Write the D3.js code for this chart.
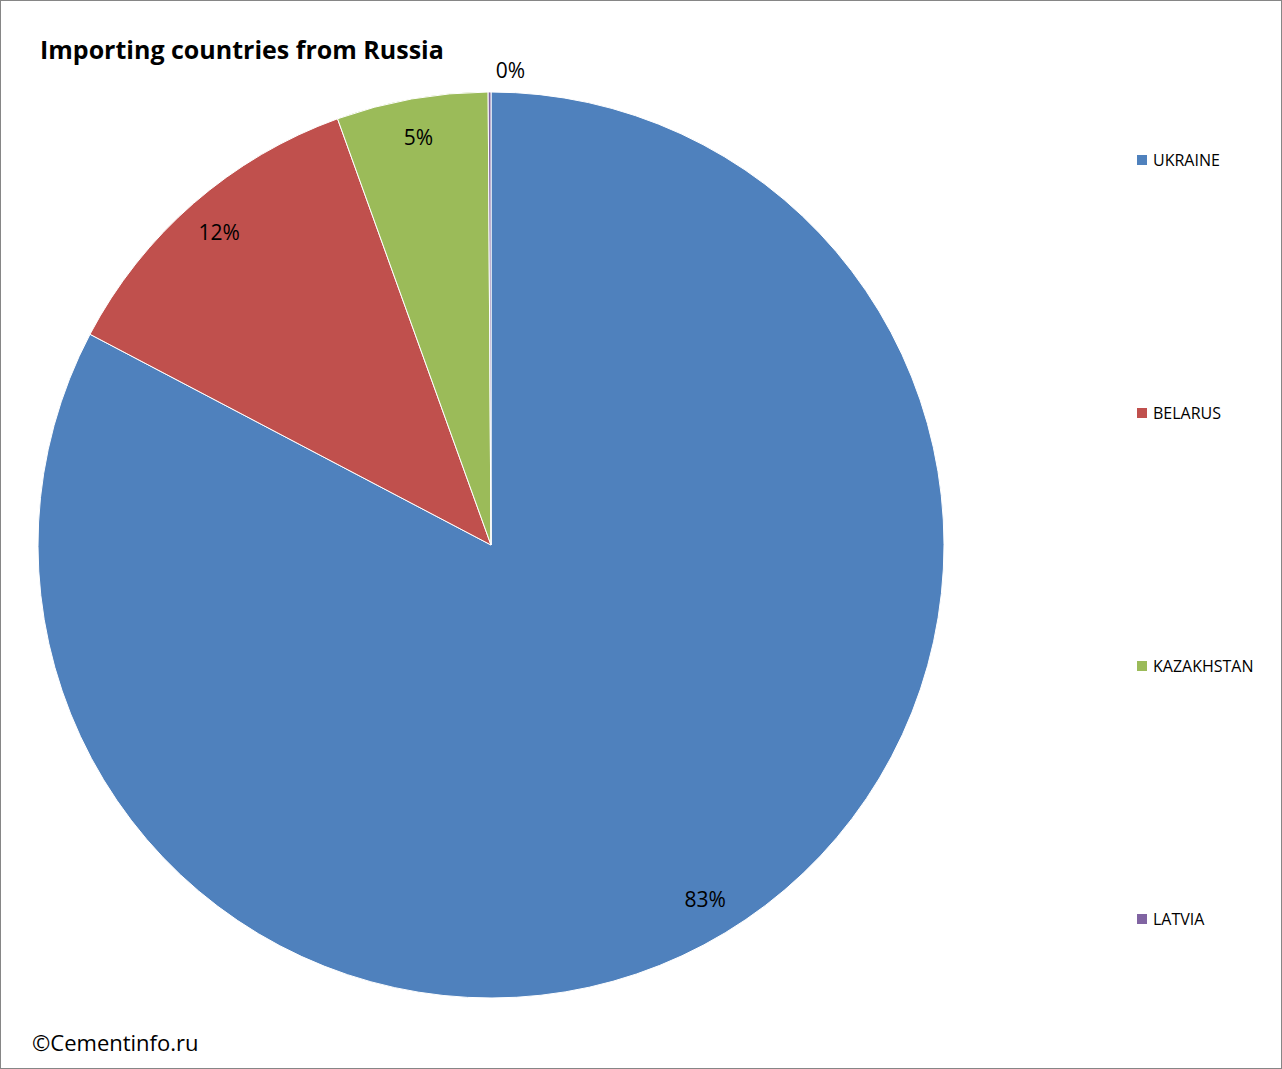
<!DOCTYPE html>
<html><head><meta charset="utf-8">
<script src="https://cdn.jsdelivr.net/npm/d3@7"></script>
<style>body{margin:0;background:#fff}svg{display:block;font-family:"Open Sans","Liberation Sans",sans-serif}</style>
</head><body>
<svg id="chart" width="1282" height="1069"></svg>
<script>
// values (percent of imports)
const countries = ["UKRAINE", "BELARUS", "KAZAKHSTAN", "LATVIA"];
const shares = [82.7, 11.8, 5.4, 0.1];
const labels = ["83%", "12%", "5%", "0%"];
const colors = ["#4f81bd", "#c0504d", "#9bbb59", "#8064a2"];

const svg = d3.select("#chart");
svg.append("rect").attr("x", 0.5).attr("y", 0.5).attr("width", 1281).attr("height", 1068)
    .attr("fill", "#fff").attr("stroke", "#868686");

svg.append("text").attr("x", 40).attr("y", 59).attr("font-size", 25).attr("font-weight", "bold")
    .text("Importing countries from Russia");

const cx = 491, cy = 545, R = 453;
const pie = d3.pie().sort(null).value(d => d)(shares);
const arc = d3.arc().innerRadius(0).outerRadius(R);
const g = svg.append("g").attr("transform", `translate(${cx},${cy})`);

g.selectAll("path").data(pie).enter().append("path")
    .attr("d", arc).attr("fill", (d, i) => colors[i])
    .attr("stroke", "#fff").attr("stroke-width", 1);

g.selectAll(".lbl").data(pie).enter().append("text")
    .attr("class", "lbl")
    .attr("transform", d => {
        const a = (d.startAngle + d.endAngle) / 2;
        const r = d.data < 1 ? 474 : 414;
        return `translate(${Math.sin(a) * r + (d.data < 1 ? 21 : 0)},${-Math.cos(a) * r})`;
    })
    .attr("text-anchor", "middle").attr("dy", "0.35em").attr("font-size", 21)
    .text((d, i) => labels[i]);

const leg = svg.append("g");
countries.forEach((c, i) => {
    const y = 160 + i * 253;
    leg.append("rect").attr("x", 1137).attr("y", y - 5).attr("width", 10).attr("height", 10).attr("fill", colors[i]);
    leg.append("text").attr("x", 1153).attr("y", y).attr("dy", "0.35em").attr("font-size", 16).text(c);
});

svg.append("text").attr("x", 32).attr("y", 1051).attr("font-size", 22).text("©Cementinfo.ru");
</script>
</body></html>
